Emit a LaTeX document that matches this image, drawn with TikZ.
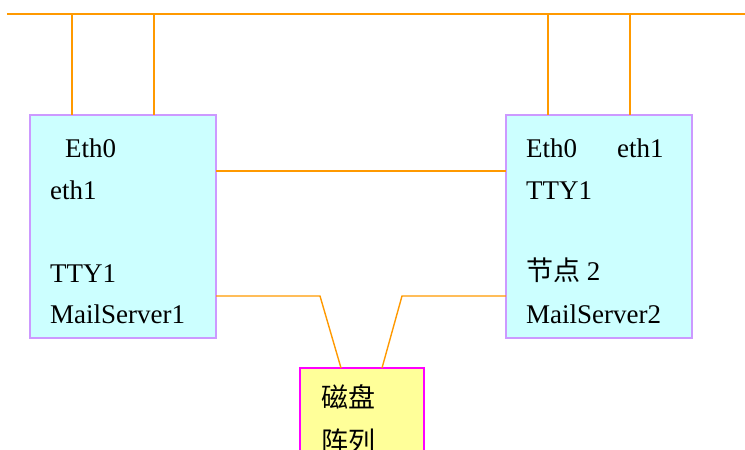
\documentclass[tikz,border=0pt]{standalone}
\usepackage{fontspec}
\setmainfont{Liberation Serif}
\newfontfamily\cjk{Noto Sans CJK SC}
\definecolor{wire}{HTML}{FF9900}
\definecolor{boxline}{HTML}{CC99FF}
\definecolor{boxfill}{HTML}{CCFFFF}
\definecolor{diskfill}{HTML}{FFFF99}
\definecolor{diskline}{HTML}{FF00FF}
\begin{document}
\begin{tikzpicture}[x=1pt, y=-1pt,
                    wire line/.style={draw=wire, line width=1.4pt},
                    server node/.style={rectangle, draw=boxline, fill=boxfill, line width=1.2pt,
                      minimum width=186pt, minimum height=223pt, inner sep=0pt, outer sep=0pt},
                    disk node/.style={rectangle, draw=diskline, fill=diskfill, line width=1.2pt,
                      minimum width=124pt, minimum height=120pt, inner sep=0pt, outer sep=0pt},
                    label text/.style={anchor=base west, inner sep=0pt, font=\fontsize{27}{32}\selectfont}]

  \useasboundingbox (0,0) rectangle (745,450);
  \clip (0,0) rectangle (745,450);

  \node[server node] (1) at (123,226.5) {};
  \node[server node] (2) at (599,226.5) {};
  \node[disk node] (3) at (362,428) {};

  % left server
  \node[label text] (1a) at (65,157) {Eth0};
  \node[label text] (1b) at (50,199) {eth1};
  \node[label text] (1c) at (50,282) {TTY1};
  \node[label text] (1d) at (50,323) {MailServer1};

  % right server
  \node[label text] (2a) at (526,157) {Eth0};
  \node[label text] (2b) at (617,157) {eth1};
  \node[label text] (2c) at (526,199) {TTY1};
  \node[label text] (2d) at (526,280) {{\cjk 节点} 2};
  \node[label text] (2e) at (526,323) {MailServer2};

  % disk array
  \node[label text] (3a) at (321,407) {\cjk 磁盘};
  \node[label text] (3b) at (321,451) {\cjk 阵列};

  \coordinate (w) at (7,14);
  \coordinate (e) at (745,14);
  \coordinate (a1) at (72,14);
  \coordinate (a2) at (154,14);
  \coordinate (a3) at (548,14);
  \coordinate (a4) at (630,14);
  \coordinate (m) at (0,171);
  \coordinate (l) at (0,296);
  \coordinate (k1) at (320,296);
  \coordinate (k2) at (402,296);
  \coordinate (d1) at (341,0);
  \coordinate (d2) at (382,0);

\path[wire line]
    (w) edge (e)
    (a1) edge (a1 |- 1.north)
    (a2) edge (a2 |- 1.north)
    (a3) edge (a3 |- 2.north)
    (a4) edge (a4 |- 2.north)
    (1.east |- m) edge (2.west |- m)
  ;
  \draw[wire line] (1.east |- l) -- (k1) -- (3.north -| d1);
  \draw[wire line] (2.west |- l) -- (k2) -- (3.north -| d2);

\end{tikzpicture}
\end{document}
